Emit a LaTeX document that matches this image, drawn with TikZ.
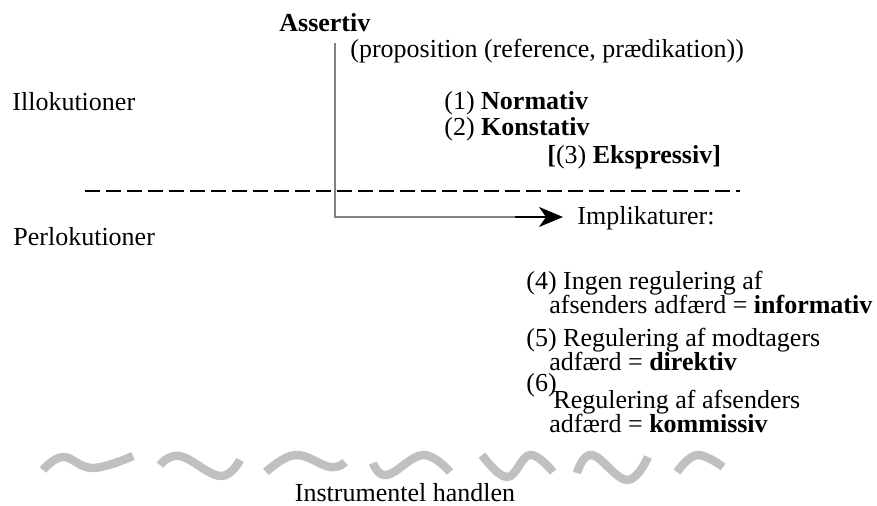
\documentclass[tikz,border=0pt]{standalone}
\usepackage{fontspec}
\setmainfont{Liberation Serif}
\usetikzlibrary{arrows.meta}

\definecolor{stemgray}{RGB}{130,130,130}
\definecolor{wavegray}{RGB}{192,192,192}

\tikzset{
  lbl/.style={anchor=base west, inner sep=0pt},
  stemline/.style={stemgray, line width=1pt},
  wave/.style={wavegray, line width=4.2pt},
}

\begin{document}
\begin{tikzpicture}[x=0.5pt, y=-0.5pt, font=\fontsize{13}{15}\selectfont]
\useasboundingbox (0,0) rectangle (877,505);

\coordinate (stem) at (335,43);
\coordinate (bend) at (335,217);
\coordinate (headstart) at (515,217);
\coordinate (dashL) at (85,191);
\coordinate (dashR) at (740,191);

% Illokutioner
\node[lbl] (illok) at (12,110) {Illokutioner};
\node[lbl] (assertiv) at (279,31) {\textbf{Assertiv}};
\node[lbl] (prop) at (350,57) {(proposition (reference, prædikation))};
\node[lbl] (normativ) at (444,109) {(1) \textbf{Normativ}};
\node[lbl] (konstativ) at (444,135) {(2) \textbf{Konstativ}};
\node[lbl] (ekspressiv) at (547,163) {\textbf{[}(3) \textbf{Ekspressiv]}};

\draw[line width=0.8pt, dash pattern=on 7.5pt off 3pt] (dashL) -- (dashR);

% Perlokutioner
\node[lbl] (perlok) at (13,245) {Perlokutioner};
\node[lbl] (implik) at (577,224) {Implikaturer:};

\draw[stemline] (stem) -- (bend) -- (headstart);
\draw[line width=0.7pt, -{Stealth[length=12pt, width=10pt, inset=3.5pt]}]
  (headstart) -- ([xshift=-7pt]implik.west |- headstart);

\node[lbl] (ingen) at (526,289) {(4) Ingen regulering af};
\node[lbl] (ingenb) at (549,313) {afsenders adfærd = \textbf{informativ}};
\node[lbl] (regmod) at (526,346) {(5) Regulering af modtagers};
\node[lbl] (regmodb) at (549,370) {adfærd = \textbf{direktiv}};
\node[lbl] (nrsix) at (526,391) {(6)};
\node[lbl] (regafs) at (553,408) {Regulering af afsenders};
\node[lbl] (regafsb) at (549,432) {adfærd = \textbf{kommissiv}};

% Instrumentel handlen
\draw[wave] plot[smooth, tension=0.7] coordinates {(43,470) (63,457) (93,468) (133,456)};
\draw[wave] plot[smooth, tension=0.7] coordinates {(160,465) (180,456) (220,476) (240,460)};
\draw[wave] plot[smooth, tension=0.7] coordinates {(266,472) (295,455) (330,467) (345,462)};
\draw[wave] plot[smooth, tension=0.7] coordinates {(373,463) (387,475) (423,455) (450,472)};
\draw[wave] plot[smooth, tension=0.7] coordinates {(482,455) (507,477) (530,455) (553,472)};
\draw[wave] plot[smooth, tension=0.7] coordinates {(577,473) (592,455) (627,480) (648,457)};
\draw[wave] plot[smooth, tension=0.7] coordinates {(677,472) (697,455) (723,467)};

\node[anchor=base, inner sep=0pt] (instr) at (405,501) {Instrumentel handlen};
\end{tikzpicture}
\end{document}
